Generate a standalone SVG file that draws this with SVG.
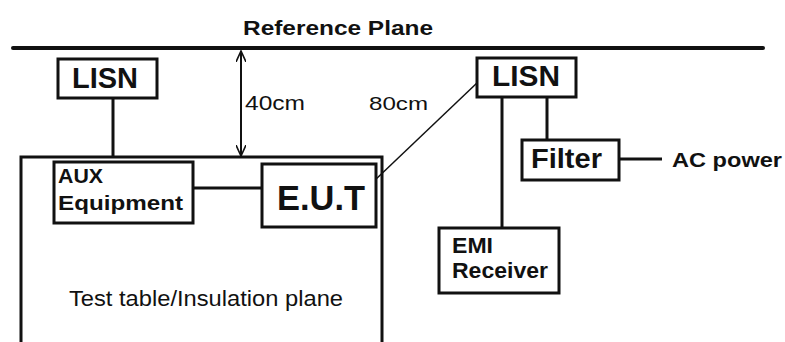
<svg xmlns="http://www.w3.org/2000/svg" width="785" height="342" viewBox="0 0 785 342">
<style>
.box{fill:#fff;stroke:#111;stroke-width:3}
.ln{stroke:#111;stroke-width:3;fill:none}
.t{font-family:"Liberation Sans",Arial,sans-serif;fill:#111}
.b{font-weight:bold}
</style>
<defs>
<marker id="ah" viewBox="0 0 12 10" refX="11" refY="5" markerWidth="12" markerHeight="10" markerUnits="userSpaceOnUse" orient="auto-start-reverse">
<path d="M0,0 L11,5 L0,10" fill="none" stroke="#111" stroke-width="1.6"/>
</marker>
</defs>
<rect width="785" height="342" fill="#fff"/>
<g id="reference-plane">
<line x1="13" y1="48" x2="763" y2="48" stroke="#111" stroke-width="4" stroke-linecap="round"/>
<text class="t b" x="243" y="35" font-size="21" textLength="190" lengthAdjust="spacingAndGlyphs">Reference Plane</text>
</g>
<g id="test-table">
<rect class="box" x="21" y="157" width="361" height="200"/>
<text class="t" x="69" y="306" font-size="22" textLength="274" lengthAdjust="spacingAndGlyphs" fill="#222">Test table/Insulation plane</text>
</g>
<g id="connectors">
<line class="ln" x1="113" y1="98" x2="113" y2="157"/>
<line class="ln" x1="502" y1="97" x2="502" y2="228"/>
<line class="ln" x1="547" y1="97" x2="547" y2="140"/>
<line class="ln" x1="193" y1="188" x2="262" y2="188" stroke-width="2"/>
<line class="ln" x1="619" y1="159" x2="662" y2="159"/>
<line x1="374" y1="181" x2="478" y2="82" stroke="#111" stroke-width="1.5"/>
<line x1="241" y1="51" x2="241" y2="156" stroke="#111" stroke-width="2" marker-start="url(#ah)" marker-end="url(#ah)"/>
<text class="t" x="245" y="110" font-size="20" textLength="60" lengthAdjust="spacingAndGlyphs">40cm</text>
<text class="t" x="369" y="110" font-size="19" textLength="59" lengthAdjust="spacingAndGlyphs">80cm</text>
</g>
<g id="lisn-left">
<rect class="box" x="58" y="59" width="99" height="39"/>
<text class="t b" x="72" y="88" font-size="29" textLength="66" lengthAdjust="spacingAndGlyphs">LISN</text>
</g>
<g id="aux">
<rect class="box" x="54" y="162" width="139" height="61"/>
<text class="t b" x="58" y="183" font-size="21" textLength="45" lengthAdjust="spacingAndGlyphs">AUX</text>
<text class="t b" x="58" y="210" font-size="21" textLength="125" lengthAdjust="spacingAndGlyphs">Equipment</text>
</g>
<g id="eut">
<rect class="box" x="262" y="164" width="114" height="63" stroke-width="3.5"/>
<text class="t b" x="277" y="210" font-size="35" textLength="88" lengthAdjust="spacingAndGlyphs">E.U.T</text>
</g>
<g id="lisn-right">
<rect class="box" x="477" y="58" width="99" height="39"/>
<text class="t b" x="492" y="86" font-size="29" textLength="68" lengthAdjust="spacingAndGlyphs">LISN</text>
</g>
<g id="filter">
<rect class="box" x="522" y="140" width="97" height="40"/>
<text class="t b" x="531" y="168" font-size="28" textLength="71" lengthAdjust="spacingAndGlyphs">Filter</text>
</g>
<g id="ac-power">
<text class="t b" x="672" y="167" font-size="21" textLength="110" lengthAdjust="spacingAndGlyphs">AC power</text>
</g>
<g id="emi-receiver">
<rect class="box" x="439" y="228" width="120" height="65"/>
<text class="t b" x="452" y="253" font-size="22" textLength="41" lengthAdjust="spacingAndGlyphs">EMI</text>
<text class="t b" x="452" y="278" font-size="22" textLength="96" lengthAdjust="spacingAndGlyphs">Receiver</text>
</g>
</svg>
